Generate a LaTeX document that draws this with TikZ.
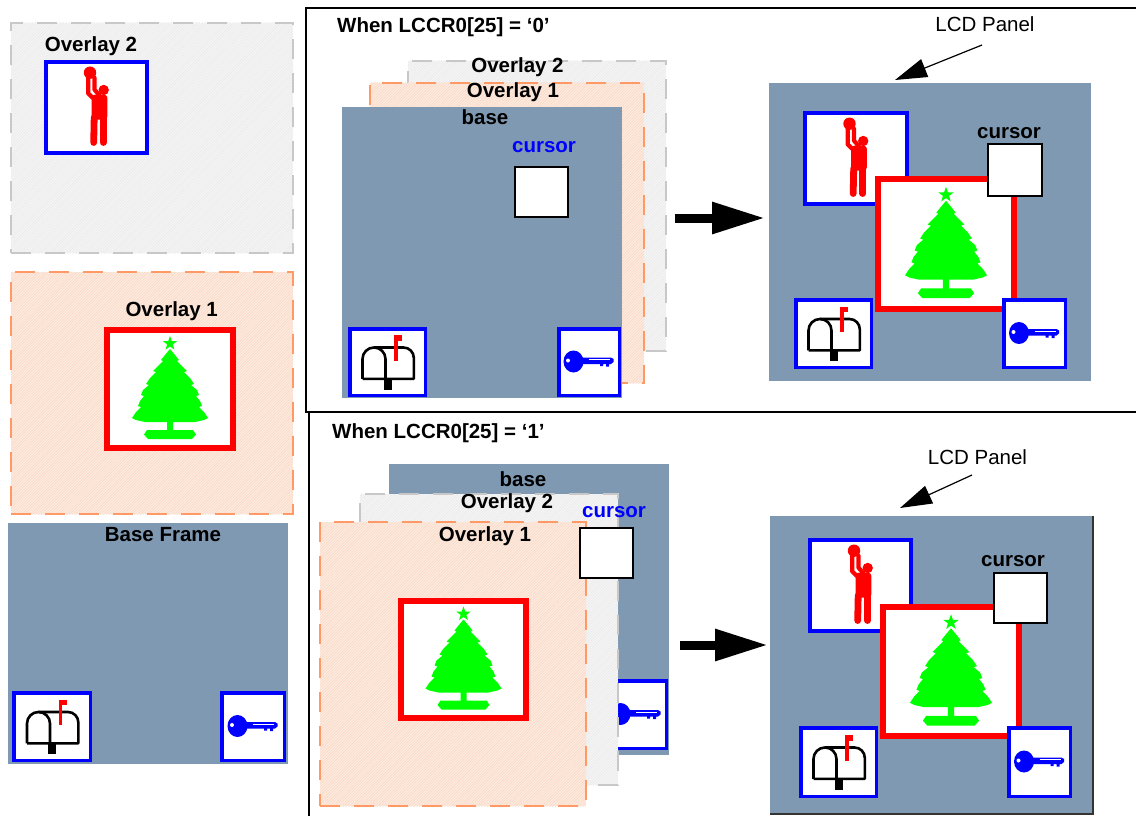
\documentclass[tikz,border=0pt]{standalone}
\usepackage{fontspec}
\setmainfont{Liberation Sans}
\usetikzlibrary{arrows.meta,patterns.meta}

\definecolor{slate}{RGB}{127,153,178}
\definecolor{ovtwodash}{RGB}{200,200,200}
\definecolor{ovtwofill}{RGB}{245,245,245}
\definecolor{ovtwohatch}{RGB}{232,232,232}
\definecolor{ovonedash}{RGB}{255,153,102}
\definecolor{ovonefill}{RGB}{253,235,224}
\definecolor{ovonehatch}{RGB}{250,212,190}
\definecolor{treegreen}{RGB}{0,255,0}

\tikzset{
  box/.style={rectangle, inner sep=0pt, outer sep=0pt},
  sz/.style 2 args={minimum width=#1, minimum height=#2},
  panel/.style={box, fill=slate},
  bluebox/.style={box, draw=blue, line width=4pt, fill=white},
  redbox/.style={box, draw=red, line width=6pt, fill=white},
  curbox/.style={box, draw=black, line width=2pt, fill=white},
  ovtwo/.style={box, draw=ovtwodash, line width=2.5pt, dash pattern=on 20pt off 14pt,
    preaction={fill=ovtwofill},
    pattern={Lines[angle=45,distance=2pt,line width=0.45pt]}, pattern color=ovtwohatch},
  ovone/.style={box, draw=ovonedash, line width=2.5pt, dash pattern=on 20pt off 14pt,
    preaction={fill=ovonefill},
    pattern={Lines[angle=45,distance=2pt,line width=0.45pt]}, pattern color=ovonehatch},
  lbl/.style={font=\fontsize{20.5}{24}\selectfont\bfseries, inner sep=0pt},
  plain/.style={font=\fontsize{20.5}{24}\selectfont, inner sep=0pt},
  framebar/.style={line width=2pt, black},
  bigarrow/.style={line width=9pt, -{Triangle[length=53pt,width=30pt]}},
  leader/.style={line width=1.2pt, -{Triangle[length=32pt,width=19pt]}},
  % icons, drawn in a y-up local frame around the centre of their box
  pics/person/.style={code={
    \begin{scope}[yscale=-1]
      \fill[red] (-6.5,34.8) circle[radius=6.2];
      \fill[red] (7.2,17.5) circle[radius=5.2];
      \draw[red,line width=4.2pt,line cap=round,line join=round] (-8.3,30) -- (-8.3,14) -- (-3,9);
      \draw[red,line width=4.2pt,line cap=round,line join=round] (-2.1,30) -- (-2.1,18) -- (3,12);
      \fill[red,rounded corners=3pt] (-4.8,12.8) rectangle (10.8,-12);
      \draw[red,line width=6.8pt,line cap=round] (-2.3,-10) -- (-2.8,-35);
      \draw[red,line width=6.8pt,line cap=round] (6.8,-10) -- (6.8,-35);
    \end{scope}}},
  pics/xmastree/.style={code={
    \begin{scope}[yscale=-1]
      \fill[treegreen] (0,40) -- (5,34) -- (9,29) -- (7,28) -- (13,22) -- (17,18) -- (14,17)
        -- (20,11) -- (24,5) -- (21,4) -- (27,-1) -- (29,-6) -- (26,-7) -- (30,-12) -- (32,-17)
        -- (29,-18) -- (34,-23) -- (38,-29) -- (34,-31) -- (25,-33) -- (3,-33)
        -- (3,-41) -- (23,-41) -- (26,-45.5) -- (22,-50) -- (-22,-50) -- (-26,-45.5) -- (-23,-41)
        -- (-3,-41) -- (-3,-33) -- (-25,-33) -- (-34,-31) -- (-38,-29) -- (-34,-23) -- (-29,-18)
        -- (-32,-17) -- (-30,-12) -- (-26,-7) -- (-29,-6) -- (-27,-1) -- (-21,4) -- (-24,5)
        -- (-20,11) -- (-14,17) -- (-17,18) -- (-13,22) -- (-7,28) -- (-9,29) -- (-5,34)
        -- cycle;
      \fill[treegreen,shift={(0,45.5)}] (90:7.5) -- (126:3) -- (162:7.5) -- (198:3) -- (234:7.5)
        -- (270:3) -- (306:7.5) -- (342:3) -- (18:7.5) -- (54:3) -- cycle;
    \end{scope}}},
  pics/mailbox/.style={code={
    \begin{scope}[yscale=-1]
      \fill[black] (-3.7,-16.8) rectangle (4,-27.5);
      \draw[black,line width=2.6pt,line join=round] (-25,-16.8) -- (-25,3)
        arc[start angle=180,end angle=0,radius=11.5] -- (-2,-16.8);
      \draw[black,line width=2.6pt,line join=round] (-13.5,14.5) -- (16,14.5)
        arc[start angle=90,end angle=0,radius=10.3] -- (26.3,-16.8) -- (-25,-16.8);
      \fill[red] (6.7,1.5) rectangle (10,26.5);
      \fill[red] (6.7,21.5) rectangle (14.7,27);
    \end{scope}}},
  pics/keyicon/.style={code={
    \begin{scope}[yscale=-1]
      \fill[blue] (-15.5,0.5) ellipse[x radius=10,y radius=11];
      \fill[white] (-21,1.5) circle[radius=2];
      \fill[blue] (-9,4.5) -- (22,4.5) -- (24.5,3) -- (24.5,0) -- (22,-2) -- (20,-2) -- (20,-4.5)
        -- (17,-4.5) -- (17,-2) -- (14,-2) -- (14,-4) -- (11,-4) -- (11,-2) -- (-9,-2) -- cycle;
      \draw[white,line width=0.8pt] (0,2.4) -- (21,2.4);
    \end{scope}}},
}

\begin{document}
\begin{tikzpicture}[x=1pt,y=-1pt]
\useasboundingbox (0,0) rectangle (1136,816);

% ---------- left column: the three planes on their own ----------
\node[ovtwo, sz={282pt}{230pt}] (ovtwoL) at (152,138) {};
\node[lbl] (ovtwoLlbl) at (91,46) {Overlay 2};
\node[bluebox, sz={101pt}{91pt}] (manL) at (96.5,107.5) {};
\pic at (manL) {person};

\node[ovone, sz={282pt}{242pt}] (ovoneL) at (152,393) {};
\node[lbl] (ovoneLlbl) at (171.7,311) {Overlay 1};
\node[redbox, sz={126pt}{118pt}] (treeL) at (170,389) {};
\pic at (treeL) {xmastree};

\node[panel, sz={280pt}{241pt}] (baseL) at (148,643.5) {};
\node[lbl] (baseLlbl) at (163,535) {Base Frame};
\node[bluebox, line width=3.5pt, sz={76.5pt}{67.5pt}] (mailL) at (52,726.5) {};
\pic at (mailL) {mailbox};
\node[bluebox, line width=3.5pt, sz={62.5pt}{67.5pt}] (keyL) at (253,726.5) {};
\pic at (keyL) {keyicon};

% ---------- frames ----------
\draw[framebar] (1136,8) -- (306,8) -- (306,412) -- (1136,412);
\draw[framebar] (309,412) -- (309,816);

% ---------- upper case: LCCR0[25] = 0 ----------
\node[lbl, anchor=west] (titleT) at (337,27) {When LCCR0[25] = ‘0’};

\node[ovtwo, sz={258pt}{290pt}] (ovtwoT) at (537,206) {};
\node[lbl] (ovtwoTlbl) at (517.5,67) {Overlay 2};
\node[ovone, sz={274pt}{300pt}] (ovoneT) at (507,233) {};
\node[lbl] (ovoneTlbl) at (513,92) {Overlay 1};
\node[panel, sz={280pt}{291pt}] (baseT) at (482,252.5) {};
\node[lbl] (baseTlbl) at (485,117) {base};
\node[lbl, text=blue] (curTlbl) at (544,147) {cursor};
\node[curbox, sz={53pt}{50pt}] (curT) at (541.5,192) {};
\node[bluebox, line width=3.5pt, sz={75.5pt}{66.5pt}] (mailT) at (387.5,362) {};
\pic at (mailT) {mailbox};
\node[bluebox, line width=3.5pt, sz={60.5pt}{66.5pt}] (keyT) at (589,362) {};
\pic at (keyT) {keyicon};

\node[panel, sz={322pt}{298pt}] (lcdA) at (930,232) {};
\node[bluebox, sz={102pt}{91pt}] (manA) at (856,158.5) {};
\pic at (manA) {person};
\node[redbox, sz={136pt}{130pt}] (treeA) at (946,244) {};
\pic[scale=1.08] at (treeA) {xmastree};
\node[curbox, sz={54pt}{52pt}] (curA) at (1015,170) {};
\node[lbl] (curAlbl) at (1009,133) {cursor};
\node[bluebox, line width=3.5pt, sz={75.5pt}{67.5pt}] (mailA) at (833.5,333.5) {};
\pic at (mailA) {mailbox};
\node[bluebox, line width=3.5pt, sz={61.5pt}{67.5pt}] (keyA) at (1034.5,333.5) {};
\pic at (keyA) {keyicon};

\node[plain] (lcdAlbl) at (985,24) {LCD Panel};
\coordinate (ldA) at (982,45);
\draw[leader] (ldA) -- ([xshift=-35pt,yshift=3pt]lcdA.north);

\coordinate (arrT) at (675,218);
\draw[bigarrow, shorten >=4pt] (arrT) -- (arrT -| lcdA.west);

% ---------- lower case: LCCR0[25] = 1 ----------
\node[lbl, anchor=west] (titleB) at (332,433) {When LCCR0[25] = ‘1’};

\node[panel, sz={280pt}{291pt}] (baseB) at (529,609.5) {};
\node[lbl] (baseBlbl) at (523,479) {base};
\node[bluebox, line width=3.5pt, sz={60.5pt}{67.5pt}] (keyB) at (636,714.5) {};
\pic at (keyB) {keyicon};
\node[ovtwo, sz={258pt}{291pt}] (ovtwoB) at (489,639.5) {};
\node[lbl] (ovtwoBlbl) at (507,503) {Overlay 2};
\node[ovone, sz={266pt}{284pt}] (ovoneB) at (453,664) {};
\node[lbl] (ovoneBlbl) at (485,536) {Overlay 1};
\node[redbox, sz={125pt}{117pt}] (treeB) at (463.5,659.5) {};
\pic at (treeB) {xmastree};
\node[curbox, sz={53pt}{50pt}] (curB) at (606.5,553) {};
\node[lbl, text=blue] (curBlbl) at (614,512) {cursor};

\node[panel, sz={323pt}{298pt}] (lcdB) at (931.5,665) {};
\draw[black!80, line width=1.5pt] (lcdB.north east) -- (lcdB.south east) -- (lcdB.south west);
\node[bluebox, sz={101pt}{91pt}] (manB) at (860.5,585.5) {};
\pic at (manB) {person};
\node[redbox, sz={136pt}{129pt}] (treeBB) at (951,671.5) {};
\pic[scale=1.08] at (treeBB) {xmastree};
\node[curbox, sz={53pt}{50pt}] (curBB) at (1020.5,598) {};
\node[lbl] (curBBlbl) at (1013,561) {cursor};
\node[bluebox, line width=3.5pt, sz={75.5pt}{68.5pt}] (mailBB) at (838.5,762) {};
\pic at (mailBB) {mailbox};
\node[bluebox, line width=3.5pt, sz={61.5pt}{68.5pt}] (keyBB) at (1039.5,762) {};
\pic at (keyBB) {keyicon};

\node[plain] (lcdBlbl) at (977.5,457) {LCD Panel};
\coordinate (ldB) at (972,475);
\draw[leader] (ldB) -- ([xshift=-31.5pt,yshift=8pt]lcdB.north);

\coordinate (arrB) at (680,645);
\draw[bigarrow, shorten >=2pt] (arrB) -- (arrB -| lcdB.west);
\end{tikzpicture}
\end{document}
